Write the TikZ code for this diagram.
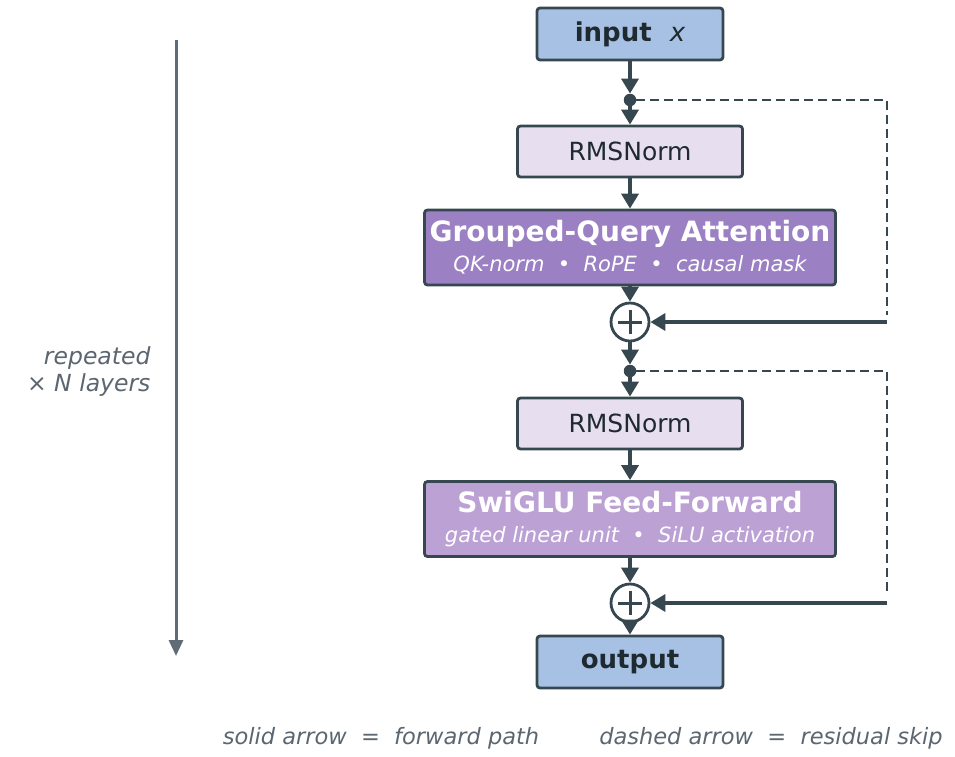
\documentclass[tikz,border=0pt]{standalone}
\usepackage{fontspec}
\setmainfont{DejaVu Sans}
\usetikzlibrary{arrows.meta}
\definecolor{edgec}{HTML}{37474F}
\definecolor{inkc}{HTML}{1F2A30}
\definecolor{iofill}{HTML}{A7C1E5}
\definecolor{normfill}{HTML}{E7DEF0}
\definecolor{attnfill}{HTML}{9B80C4}
\definecolor{ffnfill}{HTML}{BCA1D5}
\definecolor{notec}{HTML}{5B6670}
\definecolor{sidec}{HTML}{5F6B76}
\begin{document}
\begin{tikzpicture}[x=1pt,y=-1pt]
	\def\lw{2.8pt}
	\def\skipx{887}
	\tikzstyle{box} = [draw=edgec, line width=\lw, rounded corners=3pt, inner sep=0pt, align=center];
	\tikzstyle{iobox} = [box, fill=iofill, minimum width=186pt, minimum height=52pt, text=inkc, font=\fontsize{26}{30}\selectfont\bfseries];
	\tikzstyle{normbox} = [box, fill=normfill, minimum width=225pt, minimum height=51pt, text=inkc, font=\fontsize{25}{30}\selectfont];
	\tikzstyle{bigbox} = [box, minimum width=411pt, minimum height=75pt, text=white, font=\fontsize{21}{30}\selectfont];
	\tikzstyle{dot} = [circle, fill=edgec, inner sep=0pt, minimum size=12.5pt];
	\tikzstyle{plus} = [circle, draw=edgec, fill=white, line width=\lw, inner sep=0pt, minimum size=38pt,
		path picture={\draw[edgec, line width=3pt]
			([xshift=-12pt]path picture bounding box.center) -- ([xshift=12pt]path picture bounding box.center)
			([yshift=-12pt]path picture bounding box.center) -- ([yshift=12pt]path picture bounding box.center);}];
	\tikzstyle{flow} = [draw=edgec, line width=3.6pt, -{Triangle[width=17pt,length=15pt]}];
	\tikzstyle{skip} = [draw=edgec, line width=2.6pt, dash pattern=on 9pt off 5pt];
	\tikzstyle{note} = [text=notec, font=\fontsize{22.5}{26}\selectfont\itshape];
	\useasboundingbox (0,0) rectangle (955,756);
	% main column
	\node[iobox] (input) at (630,34) {input~~{\mdseries\itshape x}};
	\node[dot] (dotA) at (630,100) {};
	\node[normbox] (rmsA) at (630,151.5) {RMSNorm};
	\node[bigbox, fill=attnfill] (attn) at (630,247.5)
		{{\fontsize{28}{32}\selectfont\bfseries Grouped-Query Attention}\\
		 {\itshape QK-norm~~•~~RoPE~~•~~causal mask}};
	\node[plus] (plusA) at (630,322) {};
	\node[dot] (dotB) at (630,371) {};
	\node[normbox] (rmsB) at (630,423.5) {RMSNorm};
	\node[bigbox, fill=ffnfill] (ffn) at (630,519)
		{{\fontsize{28}{32}\selectfont\bfseries SwiGLU Feed-Forward}\\
		 {\itshape gated linear unit~~•~~SiLU activation}};
	\node[plus] (plusB) at (630,603) {};
	\node[iobox] (output) at (630,662) {output};
	% forward path
	\draw[flow] (input) -- (dotA);
	\draw[flow] (dotA) -- (rmsA);
	\draw[flow] (rmsA) -- (attn);
	\draw[flow] (attn) -- (plusA);
	\draw[flow] (plusA) -- (dotB);
	\draw[flow] (dotB) -- (rmsB);
	\draw[flow] (rmsB) -- (ffn);
	\draw[flow] (ffn) -- (plusB);
	\draw[flow] (plusB) -- (output);
	% residual skips
	\foreach \d/\p/\y/\z in {dotA/plusA/100/322, dotB/plusB/371/603}
	{
		\coordinate (\d-out) at (\skipx,\y);
		\coordinate (\p-in) at (\skipx,\z);
		\draw[skip] (\d) -- (\d-out) -- ([yshift=7pt]\p-in);
		\draw[flow] (\p-in) -- (\p);
	}
	% repeat marker
	\coordinate (repTop) at (176,40);
	\coordinate (repBot) at (176,656);
	\draw[sidec, line width=3pt, -{Triangle[width=14pt,length=16pt]}] (repTop) -- (repBot);
	\node[text=notec, anchor=east, align=right, font=\fontsize{23.5}{27}\selectfont\itshape] (reps) at (154,372)
		{repeated\\× \textit{N} layers};
	% legend
	\node[note] (legA) at (381,738) {solid arrow~~=~~forward path};
	\node[note] (legB) at (771,738) {dashed arrow~~=~~residual skip};
\end{tikzpicture}
\end{document}
